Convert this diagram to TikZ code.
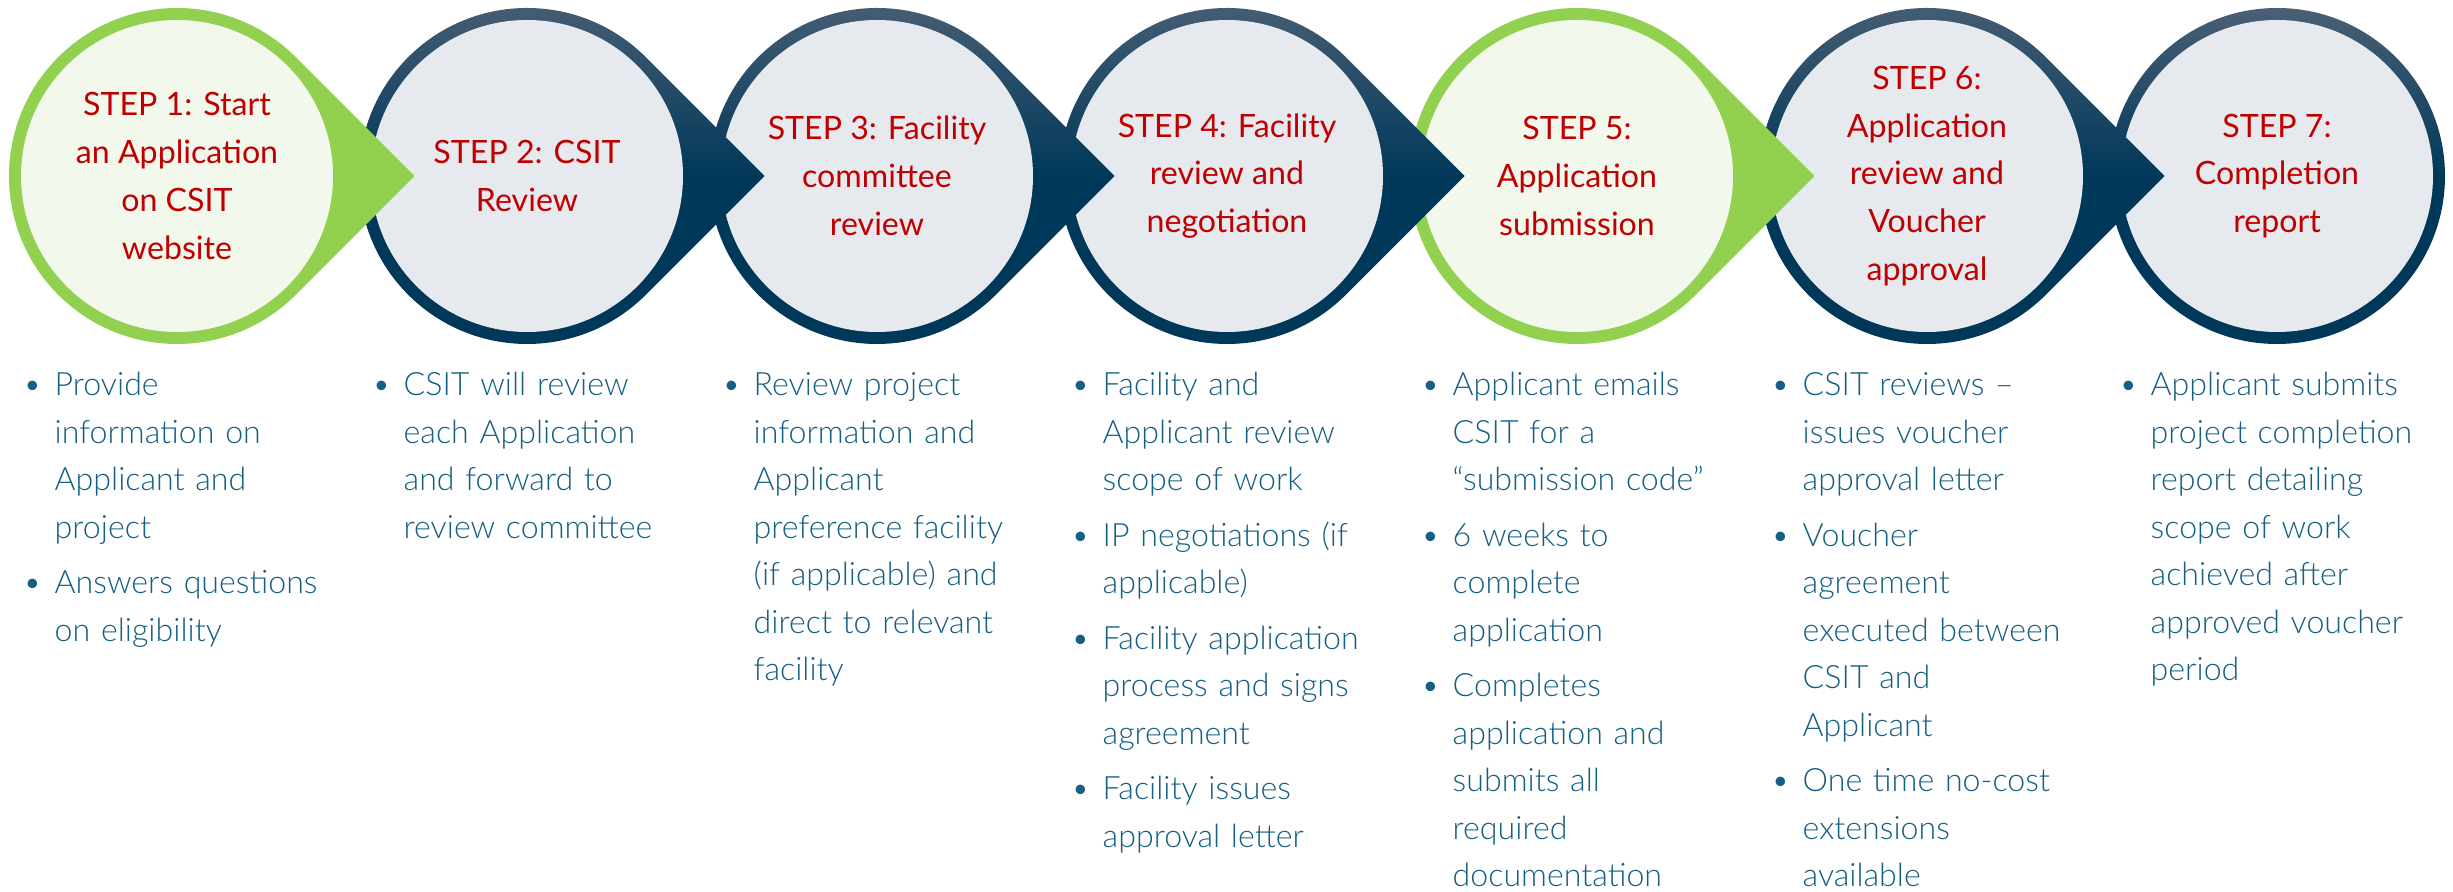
\documentclass[tikz,border=0pt]{standalone}
\usepackage{fontspec}
\IfFontExistsTF{Lato Light}{\newfontfamily\bodyfont{Lato Light}}{\newfontfamily\bodyfont{Lato}}
\newfontfamily\titlefont{Lato}
\definecolor{ringgreen}{HTML}{92D050}
\definecolor{fillgreen}{HTML}{F2F8EC}
\definecolor{ringtop}{HTML}{4A6075}
\definecolor{ringbot}{HTML}{00385A}
\definecolor{fillgrey}{HTML}{E6EAEE}
\definecolor{titlered}{HTML}{C00000}
\definecolor{bodyblue}{HTML}{145F82}
\newcommand\bitem{\par\noindent\strut\llap{\textbullet\hspace{0.13cm}}}
\newcommand\bodyset{\setlength{\parskip}{0.08cm}}
\newcommand\drawstep[3]{%
  \path[#2] (#1+237.6,176) -- (#1+118.8,57.2) arc[start angle=-45,end angle=-315,radius=168] -- cycle;
  \fill[#3] (#1,176) circle[radius=156];
}
\tikzset{
  greenring/.style={fill=ringgreen},
  darkring/.style={top color=ringtop, bottom color=ringbot, middle color=ringbot},
  titletext/.style={font=\titlefont\fontsize{9.14pt}{13.6pt}\selectfont, text=titlered, align=center, inner sep=0pt},
  bodytext/.style={font=\bodyfont\fontsize{9.14pt}{13.515pt}\selectfont, text=bodyblue, text width=3.3cm, align=left, inner sep=0pt, anchor=north west},
}
\begin{document}
\begin{tikzpicture}[x=0.01cm,y=-0.01cm]
\useasboundingbox (0,0) rectangle (2453,892);
\fill[white] (0,0) rectangle (2453,892);
% shapes, right to left
\path[darkring] (2277,176) circle[radius=168];
\fill[fillgrey] (2277,176) circle[radius=156];
\drawstep{1927}{darkring}{fillgrey}
\drawstep{1577}{greenring}{fillgreen}
\drawstep{1227}{darkring}{fillgrey}
\drawstep{877}{darkring}{fillgrey}
\drawstep{527}{darkring}{fillgrey}
\drawstep{177}{greenring}{fillgreen}
% titles
\node[titletext] (s1) at (177,176) {STEP 1: Start\\an Application\\on CSIT\\website};
\node[titletext] (s2) at (527,176) {STEP 2: CSIT\\Review};
\node[titletext] (s3) at (877,176) {STEP 3: Facility\\committee\\review};
\node[titletext] (s4) at (1227,176) {STEP 4: Facility\\review and\\negotiation};
\node[titletext] (s5) at (1577,176) {STEP 5:\\Application\\submission};
\node[titletext] (s6) at (1927,176) {STEP 6:\\Application\\review and\\Voucher\\approval};
\node[titletext] (s7) at (2277,176) {STEP 7:\\Completion\\report};
% bullet texts
\node[bodytext] (b1) at (54,339.4) {\bodyset\bitem Provide\\information on\\Applicant and\\project\bitem Answers questions\\on eligibility};
\node[bodytext] (b2) at (403,339.4) {\bodyset\bitem CSIT will review\\each Application\\and forward to\\review committee};
\node[bodytext] (b3) at (753,339.4) {\bodyset\bitem Review project\\information and\\Applicant\\preference facility\\(if applicable) and\\direct to relevant\\facility};
\node[bodytext] (b4) at (1102,339.4) {\bodyset\bitem Facility and\\Applicant review\\scope of work\bitem IP negotiations (if\\applicable)\bitem Facility application\\process and signs\\agreement\bitem Facility issues\\approval letter};
\node[bodytext] (b5) at (1452,339.4) {\bodyset\bitem Applicant emails\\CSIT for a\\“submission code”\bitem 6 weeks to\\complete\\application\bitem Completes\\application and\\submits all\\required\\documentation};
\node[bodytext] (b6) at (1802,339.4) {\bodyset\bitem CSIT reviews –\\issues voucher\\approval letter\bitem Voucher\\agreement\\executed between\\CSIT and\\Applicant\bitem One time no-cost\\extensions\\available};
\node[bodytext] (b7) at (2150,339.4) {\bodyset\bitem Applicant submits\\project completion\\report detailing\\scope of work\\achieved after\\approved voucher\\period};
\end{tikzpicture}
\end{document}
